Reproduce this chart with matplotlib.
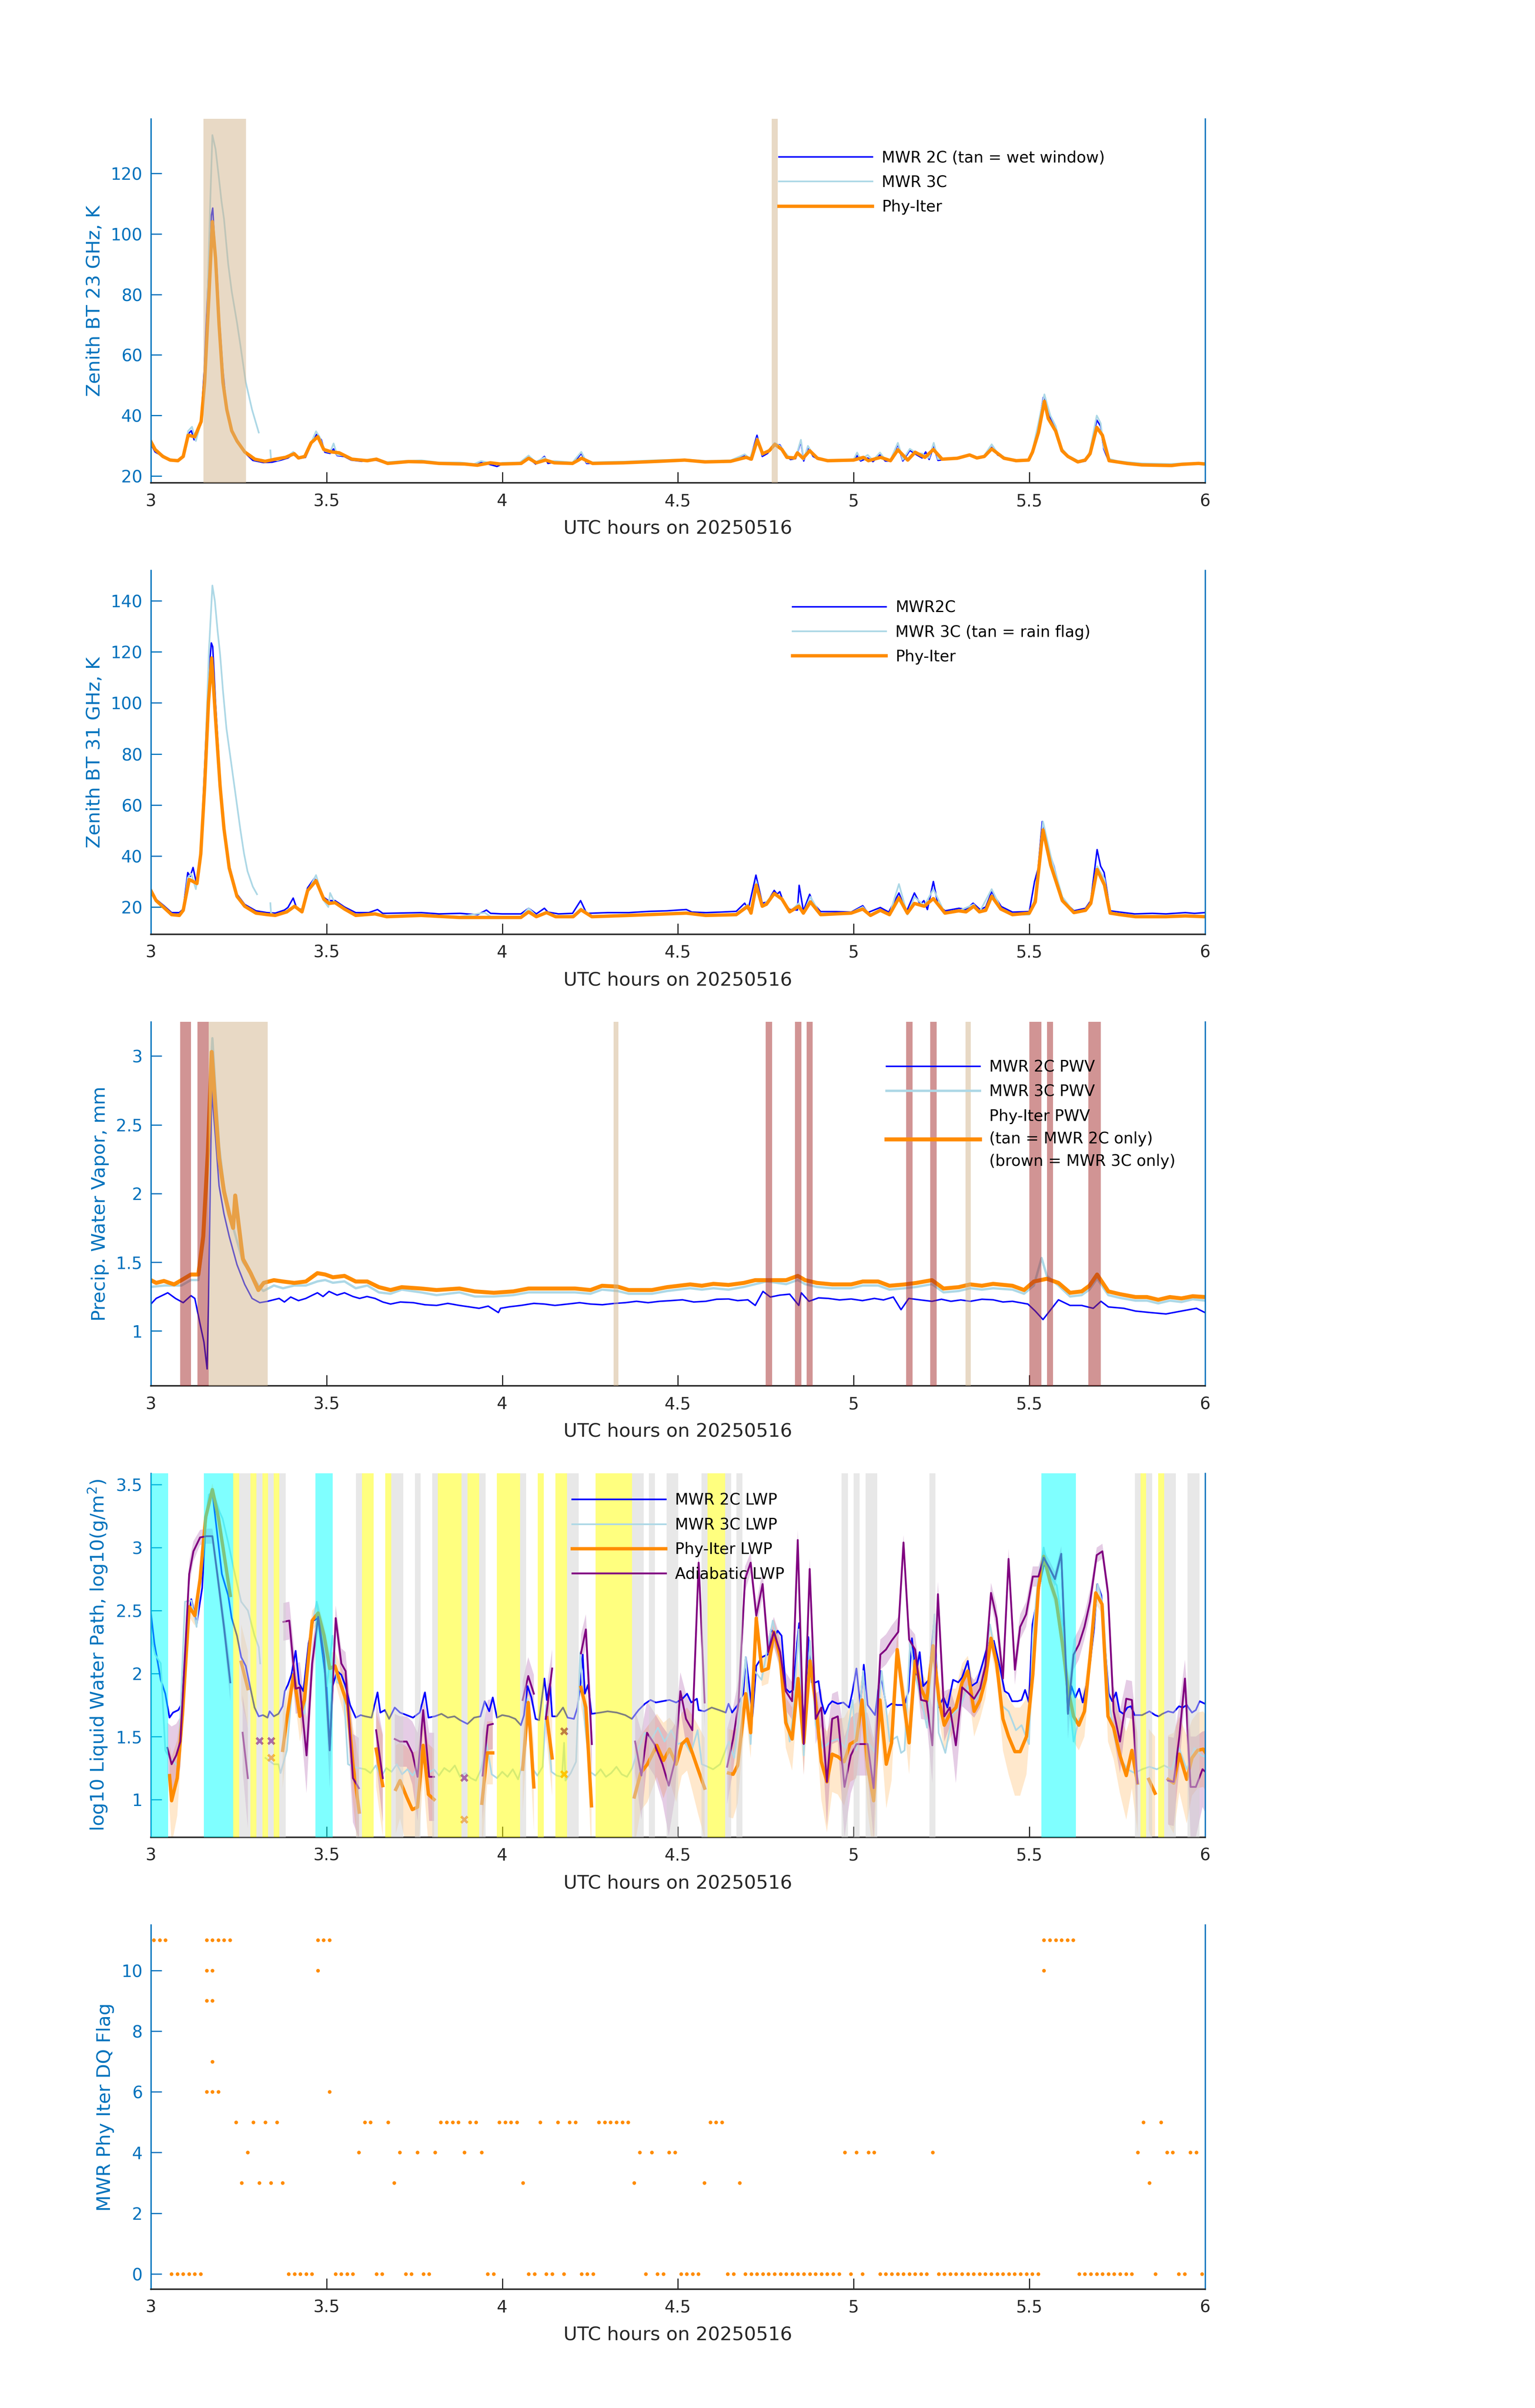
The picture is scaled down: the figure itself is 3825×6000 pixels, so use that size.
import numpy as np
import matplotlib.pyplot as plt

nan = np.nan

# ---------------- panel 1: zenith BT 23 GHz (time h, K) ----------------
bt23_2c = [(3.0, 30.5), (3.012, 28.0), (3.03, 26.8), (3.05, 25.3), (3.075, 24.9), (3.092, 26.2),
           (3.105, 33.8), (3.115, 35.0), (3.123, 32.0), (3.135, 35.5), (3.143, 39), (3.152, 55),
           (3.163, 85), (3.172, 106), (3.176, 108.5), (3.18, 100), (3.188, 88), (3.195, 72),
           (3.205, 55), (3.215, 43), (3.228, 36), (3.245, 31.5), (3.265, 28), (3.29, 25.2),
           (3.32, 24.5), (3.345, 24.6), (3.37, 25.3), (3.39, 26.0), (3.405, 27.2), (3.42, 25.8),
           (3.44, 26.2), (3.458, 31.0), (3.472, 33.8), (3.485, 32), (3.495, 27.9), (3.51, 27.5),
           (3.52, 29.0), (3.53, 26.8), (3.55, 26.5), (3.57, 25.3), (3.6, 24.9), (3.64, 25.3),
           (3.67, 24.2), (3.72, 24.7), (3.77, 24.5), (3.82, 24.1), (3.88, 24.0), (3.92, 23.6),
           (3.94, 24.5), (3.96, 24.0), (3.985, 23.2), (4.0, 24.0), (4.05, 24.1), (4.075, 26.0),
           (4.095, 24.0), (4.12, 26.5), (4.13, 24.2), (4.15, 24.6), (4.2, 24.0), (4.225, 27.5),
           (4.24, 24.2), (4.3, 24.4), (4.35, 24.4), (4.45, 24.9), (4.52, 25.2), (4.58, 24.6),
           (4.65, 24.8), (4.69, 26.8), (4.705, 25.4), (4.725, 33.5), (4.74, 26.5), (4.755, 27.5),
           (4.775, 30.5), (4.79, 30.3), (4.805, 27.5), (4.82, 25.5), (4.835, 25.8), (4.85, 31.5),
           (4.858, 25.0), (4.87, 29.5), (4.885, 26.5), (4.9, 25.5), (4.93, 25.0), (5.0, 25.2),
           (5.01, 26.8), (5.02, 25.0), (5.04, 26.0), (5.055, 24.8), (5.075, 27.0), (5.09, 25.0),
           (5.105, 25.0), (5.126, 30.5), (5.14, 25.0), (5.16, 28.5), (5.18, 27.0), (5.195, 26.0),
           (5.205, 28.0), (5.215, 25.5), (5.228, 30.0), (5.24, 25.2), (5.26, 25.5), (5.3, 25.8),
           (5.33, 26.8), (5.35, 25.8), (5.37, 26.2), (5.393, 29.5), (5.41, 27.0), (5.43, 25.8),
           (5.46, 24.9), (5.5, 25.2), (5.51, 28.5), (5.525, 36), (5.54, 46.0), (5.55, 43),
           (5.56, 39), (5.575, 36), (5.59, 29), (5.61, 26.3), (5.64, 24.5), (5.66, 25.0),
           (5.672, 27.5), (5.692, 38.5), (5.703, 36.5), (5.712, 29), (5.725, 25.2), (5.75, 24.6),
           (5.78, 24.1), (5.82, 23.7), (5.9, 23.5), (5.95, 23.9), (6.0, 24.0)]

bt23_3c = [(3.0, 30.7), (3.015, 28.5), (3.03, 27.2), (3.05, 25.7), (3.075, 25.2), (3.092, 26.5),
           (3.106, 34.9), (3.117, 36.3), (3.128, 31.6), (3.143, 38), (3.157, 60.5), (3.168, 107),
           (3.175, 132.6), (3.184, 128), (3.194, 118), (3.201, 110.7), (3.208, 105), (3.22, 90),
           (3.23, 81), (3.245, 70.7), (3.255, 63), (3.27, 51), (3.288, 41.9), (3.307, 34.4),
           (3.32, nan), (3.34, 28.5), (3.342, 25.5), (3.36, 25.2), (3.385, 26.2), (3.405, 28.0),
           (3.42, 26.2), (3.44, 26.8), (3.458, 31.5), (3.47, 34.8), (3.48, 33.0), (3.495, 28.3),
           (3.51, 27.8), (3.52, 30.8), (3.53, 27.0), (3.55, 26.8), (3.57, 25.6), (3.6, 25.2),
           (3.64, 25.8), (3.67, 24.6), (3.72, 25.0), (3.77, 25.2), (3.82, 24.5), (3.88, 24.5),
           (3.92, 24.0), (3.94, 25.0), (3.96, 24.4), (3.985, 24.0), (4.0, 24.4), (4.05, 24.5),
           (4.075, 26.8), (4.095, 24.6), (4.12, 26.2), (4.13, 24.8), (4.15, 25.0), (4.2, 24.5),
           (4.225, 28.0), (4.24, 24.5), (4.3, 24.7), (4.35, 24.8), (4.45, 25.3), (4.52, 25.5),
           (4.58, 25.0), (4.65, 25.2), (4.69, 27.2), (4.705, 25.8), (4.725, 32.5), (4.74, 27.0),
           (4.755, 28.0), (4.775, 31.0), (4.79, 30.0), (4.805, 27.8), (4.82, 25.8), (4.835, 26.0),
           (4.85, 32.0), (4.858, 25.5), (4.87, 30.0), (4.885, 27.0), (4.9, 25.8), (4.93, 25.3),
           (5.0, 25.5), (5.01, 27.8), (5.02, 25.4), (5.04, 27.0), (5.055, 25.2), (5.075, 27.8),
           (5.09, 25.4), (5.105, 25.4), (5.126, 31.0), (5.14, 25.4), (5.16, 29.0), (5.18, 27.5),
           (5.195, 27.5), (5.205, 26.5), (5.215, 26.0), (5.228, 31.0), (5.24, 25.6), (5.26, 25.8),
           (5.3, 26.2), (5.33, 27.2), (5.35, 26.2), (5.37, 26.5), (5.393, 30.5), (5.41, 27.5),
           (5.43, 26.2), (5.46, 25.3), (5.5, 25.5), (5.51, 29.0), (5.525, 37), (5.543, 47.0),
           (5.55, 44), (5.56, 40), (5.575, 36.5), (5.59, 29.5), (5.61, 26.8), (5.64, 25.0),
           (5.66, 25.4), (5.672, 28.0), (5.692, 40.0), (5.703, 37.5), (5.712, 29.5), (5.725, 25.8),
           (5.75, 25.0), (5.78, 24.6), (5.82, 24.2), (5.9, 24.0), (5.95, 24.3), (6.0, 24.4)]

bt23_phy = [(3.0, 31.4), (3.012, 28.8), (3.034, 26.5), (3.055, 25.3), (3.077, 25.1), (3.092, 26.5),
            (3.106, 33.5), (3.125, 33.0), (3.143, 38.0), (3.153, 51), (3.165, 79), (3.175, 104),
            (3.184, 92), (3.194, 70), (3.205, 51), (3.216, 42), (3.23, 35), (3.245, 31.6),
            (3.267, 28), (3.296, 25.6), (3.325, 24.9), (3.354, 25.6), (3.383, 26.2), (3.408, 27.4),
            (3.42, 26.0), (3.438, 26.5), (3.456, 31.0), (3.475, 33.0), (3.492, 28.8), (3.514, 28.0),
            (3.536, 27.7), (3.572, 25.6), (3.616, 25.1), (3.642, 25.6), (3.674, 24.2), (3.733, 24.8),
            (3.776, 24.7), (3.82, 24.2), (3.893, 24.0), (3.929, 23.6), (3.966, 24.4), (3.995, 24.0),
            (4.054, 24.2), (4.075, 25.9), (4.097, 24.4), (4.123, 25.3), (4.148, 24.4), (4.2, 24.2),
            (4.226, 25.9), (4.257, 24.2), (4.345, 24.4), (4.447, 24.9), (4.519, 25.3), (4.577, 24.7),
            (4.65, 24.9), (4.694, 26.2), (4.709, 25.6), (4.726, 32.0), (4.741, 27.4), (4.76, 28.4),
            (4.776, 30.5), (4.796, 28.8), (4.81, 26.2), (4.832, 26.0), (4.84, 27.7), (4.856, 25.9),
            (4.875, 28.4), (4.897, 25.9), (4.926, 25.1), (5.0, 25.3), (5.028, 26.2), (5.042, 25.1),
            (5.077, 26.2), (5.105, 25.1), (5.126, 28.7), (5.154, 25.3), (5.175, 27.9), (5.203, 26.2),
            (5.227, 28.8), (5.252, 25.6), (5.295, 25.9), (5.33, 27.0), (5.351, 26.0), (5.372, 26.5),
            (5.393, 29.0), (5.428, 25.9), (5.463, 25.1), (5.498, 25.3), (5.509, 27.9), (5.526, 34.4),
            (5.543, 44.7), (5.554, 39.0), (5.575, 34.9), (5.593, 28.4), (5.61, 26.5), (5.638, 24.7),
            (5.659, 25.3), (5.673, 27.4), (5.692, 36.1), (5.708, 33.5), (5.727, 25.1), (5.75, 24.7),
            (5.778, 24.2), (5.82, 23.7), (5.905, 23.5), (5.933, 23.9), (5.982, 24.2), (6.0, 24.0)]

wet_window = [(3.15, 3.271), (4.767, 4.784)]

# ---------------- panel 2: zenith BT 31 GHz ----------------
bt31_2c = [(3.0, 27.0), (3.015, 23.0), (3.037, 20.5), (3.059, 17.8), (3.081, 17.8), (3.092, 19.2),
           (3.105, 33.5), (3.112, 32), (3.12, 35.5), (3.13, 29), (3.142, 42), (3.153, 75),
           (3.164, 110), (3.172, 123.5), (3.176, 122), (3.184, 100), (3.197, 70), (3.208, 52),
           (3.223, 36.5), (3.245, 25.0), (3.267, 21.0), (3.299, 18.5), (3.33, 17.8), (3.354, 17.6),
           (3.38, 18.8), (3.39, 19.8), (3.405, 23.5), (3.415, 19.5), (3.43, 19.0), (3.446, 27.5),
           (3.465, 31.2), (3.475, 29.5), (3.49, 24.0), (3.505, 22.5), (3.524, 22.5), (3.535, 21.5),
           (3.551, 20.0), (3.583, 17.8), (3.62, 17.8), (3.645, 19.0), (3.66, 17.5), (3.7, 17.6),
           (3.77, 17.8), (3.82, 17.3), (3.88, 17.5), (3.93, 17.0), (3.955, 18.8), (3.967, 17.5),
           (4.0, 17.3), (4.053, 17.3), (4.075, 19.5), (4.097, 17.3), (4.12, 19.5), (4.13, 18.0),
           (4.16, 17.3), (4.2, 17.5), (4.223, 22.5), (4.24, 17.5), (4.3, 17.8), (4.36, 17.8),
           (4.42, 18.3), (4.469, 18.5), (4.5, 18.8), (4.524, 19.0), (4.54, 18.0), (4.58, 17.8),
           (4.62, 18.0), (4.666, 18.3), (4.69, 21.5), (4.70, 19.0), (4.722, 32.5), (4.74, 21.5),
           (4.755, 22), (4.774, 26.5), (4.782, 25), (4.79, 26.0), (4.8, 22), (4.818, 19.0),
           (4.84, 18.8), (4.845, 28.5), (4.857, 18.5), (4.875, 25.0), (4.885, 21.5), (4.906, 18.2),
           (4.95, 18.2), (4.993, 18.0), (5.026, 20.5), (5.04, 17.8), (5.076, 19.8), (5.1, 18.0),
           (5.129, 25.5), (5.15, 18.0), (5.173, 25.5), (5.19, 21), (5.2, 22.5), (5.21, 19.0),
           (5.227, 30.0), (5.24, 21), (5.26, 18.5), (5.3, 19.5), (5.32, 19.0), (5.34, 21.5),
           (5.36, 19.0), (5.376, 20.0), (5.393, 26.0), (5.42, 20.2), (5.452, 18.0), (5.5, 18.2),
           (5.515, 30), (5.525, 35), (5.537, 53.5), (5.55, 43), (5.56, 40), (5.57, 36),
           (5.594, 23), (5.627, 18.5), (5.66, 19.5), (5.675, 22.5), (5.693, 42.5), (5.703, 36),
           (5.713, 33.5), (5.73, 18.5), (5.758, 18.0), (5.8, 17.3), (5.85, 17.5), (5.889, 17.3),
           (5.944, 17.8), (5.97, 17.5), (6.0, 17.8)]

bt31_3c = [(3.0, 26.5), (3.015, 22.5), (3.037, 19.5), (3.059, 16.9), (3.081, 16.9), (3.092, 18.5),
           (3.105, 31.5), (3.115, 33.0), (3.128, 27.0), (3.142, 40), (3.155, 80), (3.165, 120),
           (3.175, 146), (3.182, 140), (3.19, 128), (3.197, 119), (3.205, 105), (3.215, 90),
           (3.225, 80), (3.235, 70), (3.245, 60), (3.255, 50), (3.265, 41), (3.275, 34),
           (3.29, 28), (3.302, 25), (3.32, nan), (3.34, 21.5), (3.342, 17.5), (3.354, 16.8),
           (3.387, 18.0), (3.409, 20.0), (3.43, 18.2), (3.446, 26.0), (3.47, 32.5), (3.492, 22.5),
           (3.505, 20), (3.51, 25.5), (3.524, 21.5), (3.551, 19.2), (3.583, 16.9), (3.638, 17.3),
           (3.671, 16.5), (3.769, 17.0), (3.878, 16.2), (3.95, 17.8), (3.967, 16.2), (4.053, 16.2),
           (4.075, 19.5), (4.097, 16.5), (4.126, 18.0), (4.152, 16.5), (4.202, 16.5), (4.224, 19.5),
           (4.255, 16.5), (4.36, 17.0), (4.469, 17.5), (4.524, 17.8), (4.579, 17.0), (4.666, 17.3),
           (4.699, 21.0), (4.708, 17.8), (4.723, 30.0), (4.74, 20.0), (4.774, 25.5), (4.796, 23.5),
           (4.818, 18.0), (4.844, 21.5), (4.857, 17.5), (4.877, 24.0), (4.906, 17.0), (4.993, 17.8),
           (5.026, 20.0), (5.048, 16.8), (5.076, 19.0), (5.102, 17.0), (5.129, 29.0), (5.153, 17.0),
           (5.173, 24.0), (5.201, 20.5), (5.227, 27.0), (5.26, 17.5), (5.299, 18.5), (5.342, 21.0),
           (5.358, 18.0), (5.393, 27.0), (5.419, 19.5), (5.452, 17.0), (5.5, 17.0), (5.517, 24.0),
           (5.539, 53.5), (5.561, 40.0), (5.594, 24.0), (5.627, 18.0), (5.66, 19.0), (5.675, 22.0),
           (5.693, 36.0), (5.714, 31.0), (5.73, 18.0), (5.758, 17.3), (5.8, 16.5), (5.889, 16.5),
           (5.944, 16.8), (6.0, 16.5)]

bt31_phy = [(3.0, 26.4), (3.015, 22.5), (3.037, 19.8), (3.059, 17.0), (3.081, 16.7), (3.092, 18.7),
            (3.109, 30.8), (3.131, 29.2), (3.142, 40.8), (3.153, 67.3), (3.164, 100.4), (3.173, 117.6),
            (3.184, 93.8), (3.197, 67.3), (3.208, 50.7), (3.223, 35.2), (3.245, 24.2), (3.267, 20.3),
            (3.299, 17.6), (3.332, 17.0), (3.354, 16.7), (3.387, 18.1), (3.409, 20.3), (3.43, 18.1),
            (3.446, 26.4), (3.47, 30.3), (3.492, 23.1), (3.507, 21.4), (3.524, 21.7), (3.551, 19.2),
            (3.583, 16.7), (3.638, 17.3), (3.671, 16.2), (3.769, 16.7), (3.878, 15.9), (3.967, 15.9),
            (4.053, 15.9), (4.075, 18.1), (4.097, 16.2), (4.126, 17.8), (4.152, 16.2), (4.202, 16.2),
            (4.224, 18.9), (4.255, 16.2), (4.36, 16.7), (4.469, 17.3), (4.524, 17.6), (4.579, 16.7),
            (4.666, 17.0), (4.699, 20.3), (4.708, 17.6), (4.723, 28.6), (4.74, 20.3), (4.752, 21.1),
            (4.774, 25.3), (4.796, 23.1), (4.818, 18.1), (4.844, 20.3), (4.857, 17.6), (4.877, 22.0),
            (4.906, 17.0), (4.993, 17.6), (5.026, 19.2), (5.048, 16.7), (5.076, 18.7), (5.102, 17.0),
            (5.129, 23.6), (5.153, 17.6), (5.173, 21.4), (5.201, 20.3), (5.227, 23.3), (5.26, 17.6),
            (5.299, 18.5), (5.32, 18.1), (5.342, 20.3), (5.358, 18.1), (5.376, 18.7), (5.393, 24.2),
            (5.419, 19.2), (5.452, 17.0), (5.5, 17.6), (5.517, 22.0), (5.539, 50.2), (5.561, 36.4),
            (5.594, 22.5), (5.627, 17.8), (5.66, 18.7), (5.675, 21.4), (5.693, 34.7), (5.714, 28.6),
            (5.73, 17.6), (5.758, 17.0), (5.802, 16.2), (5.889, 16.2), (5.944, 16.5), (6.0, 16.2)]

# ---------------- panel 3: PWV (mm) ----------------
pwv_2c = [(3.0, 1.195), (3.015, 1.236), (3.048, 1.277), (3.07, 1.236), (3.092, 1.205), (3.114, 1.256),
          (3.125, 1.236), (3.14, 1.05), (3.151, 0.918), (3.16, 0.723), (3.164, 1.195), (3.173, 2.75),
          (3.184, 2.405), (3.194, 2.056), (3.208, 1.851), (3.223, 1.687), (3.245, 1.482), (3.267, 1.338),
          (3.288, 1.236), (3.31, 1.205), (3.332, 1.215), (3.365, 1.236), (3.38, 1.21), (3.398, 1.246),
          (3.42, 1.22), (3.441, 1.236), (3.46, 1.26), (3.474, 1.277), (3.49, 1.25), (3.507, 1.287),
          (3.53, 1.26), (3.551, 1.277), (3.575, 1.25), (3.594, 1.236), (3.615, 1.25), (3.638, 1.236),
          (3.66, 1.21), (3.682, 1.195), (3.71, 1.21), (3.747, 1.205), (3.78, 1.19), (3.813, 1.185),
          (3.845, 1.2), (3.878, 1.185), (3.905, 1.175), (3.934, 1.164), (3.96, 1.18), (3.989, 1.133),
          (3.995, 1.164), (4.02, 1.175), (4.053, 1.185), (4.09, 1.2), (4.12, 1.195), (4.15, 1.185),
          (4.186, 1.195), (4.22, 1.205), (4.251, 1.195), (4.285, 1.19), (4.317, 1.199), (4.35, 1.205),
          (4.382, 1.215), (4.415, 1.205), (4.448, 1.215), (4.48, 1.22), (4.513, 1.226), (4.545, 1.21),
          (4.579, 1.215), (4.61, 1.23), (4.644, 1.232), (4.67, 1.22), (4.699, 1.226), (4.72, 1.185),
          (4.742, 1.287), (4.763, 1.246), (4.79, 1.26), (4.818, 1.267), (4.844, 1.185), (4.851, 1.277),
          (4.873, 1.215), (4.9, 1.24), (4.928, 1.236), (4.96, 1.225), (4.993, 1.232), (5.025, 1.22),
          (5.059, 1.236), (5.085, 1.225), (5.113, 1.246), (5.135, 1.154), (5.157, 1.236), (5.19, 1.225),
          (5.223, 1.215), (5.25, 1.23), (5.277, 1.215), (5.305, 1.225), (5.332, 1.215), (5.365, 1.23),
          (5.397, 1.226), (5.425, 1.21), (5.452, 1.215), (5.496, 1.195), (5.517, 1.144), (5.539, 1.082),
          (5.561, 1.154), (5.583, 1.226), (5.616, 1.185), (5.649, 1.185), (5.682, 1.164), (5.704, 1.215),
          (5.725, 1.174), (5.769, 1.164), (5.802, 1.144), (5.845, 1.133), (5.889, 1.123), (5.933, 1.144),
          (5.976, 1.164), (6.0, 1.133)]

pwv_3c = [(3.0, 1.32), (3.04, 1.33), (3.087, 1.33), (3.114, 1.37), (3.135, 1.37), (3.15, 1.65),
          (3.162, 2.4), (3.175, 3.13), (3.184, 2.75), (3.194, 2.35), (3.208, 2.05), (3.223, 1.85),
          (3.24, 1.70), (3.262, 1.50), (3.284, 1.42), (3.306, 1.33), (3.32, 1.29), (3.35, 1.33),
          (3.376, 1.31), (3.408, 1.33), (3.441, 1.33), (3.474, 1.36), (3.496, 1.37), (3.518, 1.35),
          (3.551, 1.36), (3.583, 1.31), (3.616, 1.33), (3.649, 1.28), (3.682, 1.27), (3.714, 1.30),
          (3.769, 1.28), (3.813, 1.26), (3.878, 1.28), (3.922, 1.25), (3.976, 1.25), (4.031, 1.26),
          (4.075, 1.28), (4.142, 1.28), (4.207, 1.28), (4.251, 1.27), (4.284, 1.30), (4.328, 1.29),
          (4.36, 1.27), (4.426, 1.27), (4.469, 1.29), (4.502, 1.30), (4.535, 1.31), (4.568, 1.30),
          (4.601, 1.31), (4.644, 1.30), (4.688, 1.32), (4.72, 1.34), (4.753, 1.36), (4.808, 1.34),
          (4.841, 1.37), (4.862, 1.34), (4.895, 1.32), (4.939, 1.31), (4.993, 1.31), (5.026, 1.33),
          (5.07, 1.33), (5.102, 1.30), (5.146, 1.31), (5.179, 1.32), (5.223, 1.34), (5.256, 1.28),
          (5.299, 1.29), (5.332, 1.31), (5.365, 1.30), (5.397, 1.31), (5.452, 1.30), (5.485, 1.27),
          (5.513, 1.33), (5.535, 1.53), (5.55, 1.40), (5.583, 1.33), (5.616, 1.25), (5.649, 1.26),
          (5.671, 1.30), (5.693, 1.38), (5.725, 1.26), (5.758, 1.24), (5.802, 1.22), (5.835, 1.22),
          (5.867, 1.20), (5.9, 1.22), (5.933, 1.21), (5.965, 1.23), (6.0, 1.22)]

pwv_phy = [(3.0, 1.369), (3.015, 1.349), (3.037, 1.363), (3.066, 1.338), (3.087, 1.369), (3.114, 1.41),
           (3.135, 1.41), (3.149, 1.687), (3.162, 2.30), (3.173, 3.03), (3.184, 2.61), (3.194, 2.26),
           (3.208, 2.015), (3.223, 1.85), (3.234, 1.749), (3.24, 1.985), (3.25, 1.77), (3.262, 1.523),
           (3.284, 1.42), (3.306, 1.297), (3.321, 1.349), (3.35, 1.369), (3.376, 1.359), (3.408, 1.349),
           (3.441, 1.359), (3.474, 1.42), (3.496, 1.41), (3.518, 1.39), (3.551, 1.40), (3.583, 1.359),
           (3.616, 1.359), (3.649, 1.318), (3.682, 1.297), (3.714, 1.318), (3.769, 1.308), (3.813, 1.297),
           (3.878, 1.308), (3.922, 1.287), (3.976, 1.277), (4.031, 1.287), (4.075, 1.308), (4.142, 1.308),
           (4.207, 1.308), (4.251, 1.297), (4.284, 1.328), (4.328, 1.322), (4.36, 1.297), (4.426, 1.297),
           (4.469, 1.318), (4.502, 1.328), (4.535, 1.338), (4.568, 1.328), (4.601, 1.342), (4.644, 1.334),
           (4.688, 1.349), (4.72, 1.369), (4.753, 1.369), (4.808, 1.369), (4.841, 1.40), (4.862, 1.369),
           (4.895, 1.349), (4.939, 1.338), (4.993, 1.338), (5.026, 1.359), (5.07, 1.359), (5.102, 1.328),
           (5.146, 1.338), (5.179, 1.349), (5.223, 1.369), (5.256, 1.308), (5.299, 1.318), (5.332, 1.338),
           (5.365, 1.328), (5.397, 1.342), (5.452, 1.328), (5.485, 1.297), (5.513, 1.359), (5.55, 1.379),
           (5.583, 1.349), (5.616, 1.277), (5.649, 1.287), (5.671, 1.328), (5.693, 1.41), (5.725, 1.287),
           (5.758, 1.267), (5.802, 1.246), (5.835, 1.246), (5.867, 1.226), (5.9, 1.246), (5.933, 1.236),
           (5.965, 1.252), (6.0, 1.246)]

only_2c = [(3.164, 3.332), (4.317, 4.331), (5.318, 5.333)]
only_3c = [(3.083, 3.114), (3.133, 3.164), (4.75, 4.768), (4.833, 4.851), (4.866, 4.883),
           (5.15, 5.168), (5.218, 5.236), (5.5, 5.535), (5.55, 5.568), (5.668, 5.703)]

# ---------------- panel 4: log10 LWP ----------------
lwp_2c = [(3.0, 2.48), (3.01, 2.24), (3.028, 1.95), (3.041, 1.84), (3.053, 1.65), (3.063, 1.69),
          (3.078, 1.71), (3.088, 1.76), (3.103, 2.35), (3.115, 2.59), (3.13, 2.39), (3.146, 2.68),
          (3.156, 3.19), (3.165, 3.40), (3.175, 3.44), (3.187, 3.15), (3.202, 2.79), (3.22, 2.62),
          (3.23, 2.44), (3.245, 2.30), (3.257, 2.13), (3.27, 2.06), (3.282, 1.90), (3.295, 1.73),
          (3.307, 1.66), (3.319, 1.67), (3.332, 1.65), (3.338, 1.70), (3.35, 1.66), (3.363, 1.68),
          (3.375, 1.74), (3.381, 1.86), (3.39, 1.91), (3.40, 1.99), (3.412, 2.18), (3.422, 1.92),
          (3.434, 1.86), (3.449, 2.24), (3.462, 2.42), (3.476, 2.44), (3.486, 2.22), (3.499, 1.93),
          (3.509, 1.40), (3.517, 1.90), (3.53, 2.02), (3.542, 1.99), (3.554, 1.90), (3.567, 1.75),
          (3.583, 1.65), (3.597, 1.67), (3.61, 1.66), (3.628, 1.65), (3.645, 1.85), (3.653, 1.69),
          (3.666, 1.71), (3.678, 1.64), (3.694, 1.73), (3.709, 1.69), (3.728, 1.67), (3.746, 1.65),
          (3.765, 1.69), (3.78, 1.85), (3.79, 1.65), (3.808, 1.66), (3.827, 1.68), (3.845, 1.65),
          (3.864, 1.66), (3.88, 1.63), (3.901, 1.60), (3.92, 1.65), (3.938, 1.66), (3.95, 1.78),
          (3.963, 1.70), (3.973, 1.81), (3.985, 1.65), (4.0, 1.67), (4.019, 1.66), (4.037, 1.64),
          (4.053, 1.59), (4.062, 1.67), (4.072, 1.90), (4.083, 1.81), (4.095, 1.64), (4.105, 1.63),
          (4.12, 1.96), (4.127, 1.79), (4.136, 1.92), (4.142, 1.66), (4.155, 1.66), (4.173, 1.73),
          (4.186, 1.65), (4.204, 1.64), (4.214, 1.73), (4.223, 1.93), (4.229, 2.15), (4.235, 1.84),
          (4.244, 1.91), (4.254, 1.68), (4.279, 1.69), (4.30, 1.70), (4.326, 1.69), (4.35, 1.67),
          (4.369, 1.64), (4.388, 1.71), (4.406, 1.76), (4.422, 1.79), (4.437, 1.77), (4.456, 1.78),
          (4.476, 1.79), (4.495, 1.77), (4.513, 1.80), (4.526, 1.84), (4.538, 1.77), (4.554, 1.80),
          (4.559, 1.71), (4.575, 1.70), (4.596, 1.73), (4.617, 1.71), (4.636, 1.69), (4.644, 1.76),
          (4.654, 1.69), (4.67, 1.75), (4.686, 1.84), (4.693, 2.13), (4.702, 1.93), (4.712, 1.66),
          (4.723, 2.06), (4.739, 2.13), (4.755, 2.15), (4.765, 2.35), (4.776, 2.30), (4.784, 2.34),
          (4.795, 2.30), (4.807, 1.88), (4.818, 1.85), (4.828, 1.87), (4.839, 2.24), (4.845, 2.40),
          (4.851, 1.90), (4.86, 1.55), (4.871, 2.29), (4.881, 1.93), (4.892, 1.93), (4.90, 1.94),
          (4.908, 1.78), (4.918, 1.68), (4.929, 1.75), (4.939, 1.78), (4.955, 1.76), (4.971, 1.77),
          (4.987, 1.73), (4.997, 1.86), (5.008, 2.04), (5.019, 1.75), (5.029, 2.07), (5.04, 1.75),
          (5.061, 1.67), (5.077, 2.02), (5.093, 1.73), (5.108, 1.76), (5.124, 1.75), (5.145, 1.75),
          (5.156, 1.86), (5.166, 2.28), (5.177, 1.99), (5.188, 2.17), (5.198, 1.90), (5.214, 1.95),
          (5.23, 2.44), (5.241, 1.73), (5.256, 1.81), (5.267, 1.73), (5.283, 1.95), (5.298, 1.93),
          (5.309, 1.97), (5.325, 2.10), (5.335, 1.90), (5.351, 1.93), (5.367, 2.08), (5.383, 2.24),
          (5.399, 2.26), (5.414, 2.08), (5.43, 1.86), (5.441, 1.84), (5.451, 1.78), (5.467, 1.78),
          (5.478, 1.79), (5.488, 1.87), (5.499, 1.77), (5.509, 2.39), (5.52, 2.55), (5.53, 2.71),
          (5.541, 2.86), (5.557, 2.84), (5.573, 2.75), (5.591, 2.95), (5.599, 2.35), (5.61, 1.68),
          (5.62, 1.90), (5.631, 1.81), (5.642, 1.88), (5.652, 1.77), (5.662, 1.90), (5.673, 2.08),
          (5.684, 2.35), (5.694, 2.71), (5.705, 2.62), (5.715, 2.24), (5.726, 1.84), (5.736, 1.78),
          (5.747, 1.85), (5.757, 1.70), (5.768, 1.68), (5.779, 1.73), (5.789, 1.74), (5.80, 1.67),
          (5.821, 1.67), (5.842, 1.70), (5.858, 1.67), (5.868, 1.66), (5.879, 1.68), (5.895, 1.70),
          (5.91, 1.69), (5.926, 1.74), (5.937, 1.73), (5.948, 1.75), (5.963, 1.69), (5.974, 1.71),
          (5.985, 1.78), (6.0, 1.76), (6.009, 1.75)]

lwp_3c = [(3.0, 2.30), (3.012, 2.15), (3.028, 2.08), (3.041, 1.39), (3.053, 1.33), (3.068, 1.29),
          (3.078, 1.26), (3.097, 2.57), (3.115, 2.58), (3.13, 2.37), (3.146, 3.02), (3.165, 3.42),
          (3.177, 3.44), (3.196, 3.28), (3.204, 3.23), (3.22, 3.04), (3.239, 2.79), (3.257, 2.57),
          (3.276, 2.50), (3.295, 2.30), (3.307, 2.21), (3.311, 2.08), (3.318, nan),
          (3.326, 1.33), (3.35, 1.28), (3.363, 1.28), (3.369, 1.21), (3.387, 1.39), (3.406, 2.02),
          (3.422, 1.73), (3.437, 1.68), (3.456, 2.35), (3.472, 2.57), (3.486, 2.30), (3.501, 1.90),
          (3.517, 2.30), (3.53, 1.93), (3.548, 1.90), (3.561, 1.28), (3.576, 1.26), (3.592, 1.25),
          (3.61, 1.24), (3.625, 1.21), (3.64, 1.27), (3.655, 1.18), (3.67, 1.25), (3.685, 1.22),
          (3.70, 1.28), (3.715, 1.20), (3.73, 1.24), (3.745, 1.19), (3.76, 1.26), (3.775, 1.30),
          (3.79, 1.21), (3.805, 1.24), (3.82, 1.19), (3.835, 1.25), (3.85, 1.22), (3.865, 1.27),
          (3.88, 1.18), (3.895, 1.21), (3.91, 1.17), (3.925, 1.15), (3.94, 1.24), (3.955, 1.45),
          (3.97, 1.20), (3.985, 1.17), (4.0, 1.22), (4.015, 1.18), (4.03, 1.24), (4.045, 1.16),
          (4.06, 1.30), (4.072, 1.80), (4.085, 1.25), (4.10, 1.19), (4.115, 1.26), (4.125, 1.75),
          (4.14, 1.22), (4.155, 1.19), (4.17, 1.18), (4.176, 1.45), (4.18, 1.15), (4.195, 1.21),
          (4.21, 1.30), (4.222, 2.17), (4.235, 1.60), (4.25, 1.22), (4.265, 1.19), (4.28, 1.24),
          (4.295, 1.18), (4.31, 1.21), (4.325, 1.26), (4.34, 1.20), (4.355, 1.18), (4.37, 1.25),
          (4.388, 1.41), (4.406, 1.53), (4.425, 1.48), (4.443, 1.57), (4.462, 1.46), (4.481, 1.55),
          (4.50, 1.44), (4.518, 1.46), (4.537, 1.37), (4.556, 1.55), (4.568, 1.28), (4.585, 1.26),
          (4.60, 1.24), (4.62, 1.28), (4.645, 1.46), (4.66, 1.33), (4.681, 1.81), (4.693, 2.13),
          (4.707, 1.44), (4.718, 2.02), (4.738, 1.95), (4.77, 2.42), (4.78, 2.30), (4.795, 2.00),
          (4.818, 1.46), (4.828, 1.68), (4.844, 2.35), (4.858, 1.35), (4.876, 2.26), (4.892, 1.59),
          (4.913, 1.41), (4.934, 1.46), (4.955, 1.48), (4.976, 1.41), (4.997, 1.79), (5.008, 1.39),
          (5.027, 2.02), (5.04, 1.46), (5.061, 1.37), (5.08, 2.02), (5.103, 1.46), (5.124, 1.50),
          (5.135, 1.37), (5.145, 1.39), (5.161, 2.26), (5.172, 2.02), (5.193, 1.79), (5.209, 1.57),
          (5.23, 2.47), (5.242, 1.53), (5.261, 1.37), (5.282, 1.68), (5.303, 1.73), (5.325, 1.90),
          (5.346, 1.79), (5.367, 1.90), (5.388, 2.39), (5.404, 2.13), (5.42, 1.75), (5.441, 1.70),
          (5.462, 1.55), (5.478, 1.59), (5.499, 1.44), (5.51, 2.30), (5.525, 2.75), (5.541, 3.00),
          (5.557, 2.79), (5.578, 2.70), (5.594, 2.39), (5.61, 1.90), (5.626, 1.46), (5.642, 1.64),
          (5.657, 1.68), (5.673, 2.08), (5.695, 2.71), (5.71, 2.53), (5.724, 1.84), (5.742, 1.50),
          (5.758, 1.33), (5.779, 1.24), (5.80, 1.21), (5.821, 1.24), (5.842, 1.26), (5.863, 1.24),
          (5.884, 1.27), (5.905, 1.24), (5.926, 1.41), (5.948, 1.24), (5.97, 1.41), (5.99, 1.35),
          (6.009, 1.33)]

# (time, log10 LWP, half-width of uncertainty band)
lwp_phy = [(3.053, 1.19, 0.25), (3.059, 0.99, 0.35), (3.075, 1.17, 0.30), (3.090, 1.68, 0.15),
           (3.109, 2.53, 0.08), (3.125, 2.46, 0.08), (3.140, 2.75, 0.07), (3.156, 3.24, 0.05),
           (3.175, 3.46, 0.05), (3.192, 3.24, 0.05), (3.208, 2.95, 0.06), (3.226, 2.62, 0.08),
           (3.24, nan, nan),
           (3.257, 2.09, 0.30), (3.276, 1.88, 0.30), (3.30, nan, nan),
           (3.375, 1.39, 0.30), (3.387, 1.64, 0.20), (3.406, 1.99, 0.10), (3.424, 1.66, 0.20),
           (3.437, 1.79, 0.15), (3.459, 2.42, 0.08), (3.476, 2.48, 0.08), (3.493, 2.30, 0.08),
           (3.509, 2.04, 0.12), (3.524, 2.06, 0.12), (3.542, 1.90, 0.15), (3.560, 1.75, 0.20),
           (3.575, 1.28, 0.30), (3.593, 0.90, 0.40), (3.62, nan, nan),
           (3.641, 1.40, 0.30), (3.660, 1.11, 0.40), (3.68, nan, nan),
           (3.697, 1.08, 0.35), (3.709, 1.15, 0.30), (3.728, 1.02, 0.40), (3.744, 0.92, 0.45),
           (3.759, 0.94, 0.45), (3.775, 1.43, 0.25), (3.790, 1.04, 0.40), (3.806, 1.00, 0.40),
           (3.85, nan, nan),
           (3.942, 0.97, 0.40), (3.957, 1.37, 0.25), (3.973, 1.37, 0.25), (4.01, nan, nan),
           (4.058, 1.24, 0.35), (4.074, 1.77, 0.15), (4.090, 1.10, 0.35), (4.11, nan, nan),
           (4.127, 1.65, 0.20), (4.142, 1.33, 0.30), (4.18, nan, nan),
           (4.224, 1.89, 0.15), (4.238, 1.73, 0.20), (4.254, 0.95, 0.40), (4.30, nan, nan),
           (4.376, 1.02, 0.40), (4.394, 1.21, 0.30), (4.413, 1.28, 0.30), (4.440, 1.43, 0.25),
           (4.459, 1.31, 0.30), (4.476, 1.40, 0.25), (4.495, 1.28, 0.30), (4.511, 1.44, 0.25),
           (4.526, 1.48, 0.25), (4.541, 1.37, 0.30), (4.557, 1.24, 0.35), (4.576, 1.09, 0.40),
           (4.61, nan, nan),
           (4.644, 1.21, 0.35), (4.657, 1.20, 0.35), (4.670, 1.27, 0.30), (4.684, 1.61, 0.20),
           (4.693, 1.84, 0.15), (4.707, 1.53, 0.20), (4.723, 2.44, 0.10), (4.739, 2.02, 0.12),
           (4.757, 2.04, 0.12), (4.773, 2.33, 0.10), (4.791, 2.13, 0.12), (4.807, 1.61, 0.20),
           (4.825, 1.48, 0.25), (4.842, 1.96, 0.15), (4.858, 1.45, 0.25), (4.876, 2.10, 0.12),
           (4.892, 1.77, 0.15), (4.908, 1.30, 0.30), (4.924, 1.14, 0.40), (4.939, 1.36, 0.30),
           (4.955, 1.34, 0.30), (4.973, 1.30, 0.35), (4.990, 1.44, 0.30), (5.008, 1.47, 0.30),
           (5.024, 1.79, 0.20), (5.040, 1.26, 0.35), (5.057, 0.99, 0.45), (5.075, 1.79, 0.20),
           (5.093, 1.28, 0.35), (5.108, 1.45, 0.30), (5.124, 2.19, 0.12), (5.142, 1.79, 0.15),
           (5.158, 1.45, 0.25), (5.175, 2.10, 0.12), (5.192, 1.88, 0.15), (5.208, 1.78, 0.15),
           (5.226, 2.22, 0.12), (5.243, 1.79, 0.15), (5.258, 1.59, 0.20), (5.274, 1.68, 0.20),
           (5.291, 1.73, 0.15), (5.309, 1.93, 0.15), (5.325, 2.02, 0.12), (5.343, 1.70, 0.20),
           (5.360, 1.79, 0.15), (5.375, 1.95, 0.15), (5.391, 2.28, 0.10), (5.407, 2.08, 0.12),
           (5.425, 1.64, 0.25), (5.441, 1.50, 0.30), (5.459, 1.38, 0.35), (5.474, 1.38, 0.35),
           (5.492, 1.50, 0.30), (5.510, 1.99, 0.15), (5.526, 2.68, 0.08), (5.541, 2.93, 0.06),
           (5.559, 2.73, 0.06), (5.576, 2.59, 0.08), (5.594, 2.24, 0.10), (5.610, 1.88, 0.15),
           (5.626, 1.66, 0.20), (5.641, 1.59, 0.20), (5.657, 1.70, 0.20), (5.673, 2.13, 0.12),
           (5.689, 2.64, 0.08), (5.707, 2.55, 0.08), (5.724, 1.66, 0.20), (5.740, 1.57, 0.25),
           (5.758, 1.35, 0.30), (5.776, 1.19, 0.35), (5.792, 1.39, 0.30), (5.808, 1.13, 0.40),
           (5.825, nan, nan),
           (5.840, 1.16, 0.40), (5.858, 1.05, 0.45), (5.875, nan, nan),
           (5.895, 1.16, 0.35), (5.911, 1.13, 0.40), (5.927, 1.36, 0.30), (5.948, 1.16, 0.35),
           (5.963, 1.33, 0.30), (5.979, 1.39, 0.30), (5.995, 1.40, 0.30), (6.009, 1.34, 0.30)]

lwp_adi = [(3.047, 1.41, 0.20), (3.059, 1.28, 0.30), (3.072, 1.35, 0.25), (3.084, 1.46, 0.20),
           (3.109, 2.79, 0.10), (3.121, 2.97, 0.08), (3.140, 3.08, 0.06), (3.158, 3.09, 0.06),
           (3.175, 3.09, 0.06), (3.189, 2.79, 0.08), (3.208, 2.37, 0.10), (3.226, 1.93, 0.15),
           (3.24, nan, nan),
           (3.261, 1.53, 0.30), (3.276, 1.17, 0.40), (3.30, nan, nan),
           (3.377, 2.41, 0.15), (3.394, 2.42, 0.15), (3.412, 1.88, 0.20), (3.424, 1.89, 0.20),
           (3.443, 1.35, 0.30), (3.459, 2.08, 0.15), (3.476, 2.45, 0.10), (3.493, 2.13, 0.15),
           (3.509, 1.39, 0.30), (3.526, 2.44, 0.10), (3.542, 2.08, 0.12), (3.554, 2.02, 0.15),
           (3.575, 1.17, 0.35), (3.592, 1.09, 0.40), (3.62, nan, nan),
           (3.641, 1.55, 0.25), (3.660, 1.17, 0.35), (3.68, nan, nan),
           (3.694, 1.48, 0.20), (3.709, 1.46, 0.20), (3.728, 1.46, 0.20), (3.744, 1.37, 0.25),
           (3.759, 1.18, 0.35), (3.775, 1.71, 0.15), (3.792, 1.18, 0.35), (3.806, 1.18, 0.35),
           (3.85, nan, nan),
           (3.944, 1.19, 0.35), (3.959, 1.59, 0.20), (3.973, 1.60, 0.20), (4.01, nan, nan),
           (4.058, 1.79, 0.15), (4.074, 1.98, 0.15), (4.090, 1.84, 0.15), (4.11, nan, nan),
           (4.124, 1.64, 0.20), (4.142, 2.04, 0.15), (4.18, nan, nan),
           (4.224, 2.16, 0.15), (4.238, 2.35, 0.12), (4.255, 1.44, 0.25), (4.30, nan, nan),
           (4.378, 1.46, 0.25), (4.396, 1.19, 0.35), (4.412, 1.53, 0.25), (4.433, 1.44, 0.25),
           (4.456, 1.28, 0.30), (4.474, 1.11, 0.40), (4.491, 1.30, 0.30), (4.507, 1.86, 0.15),
           (4.523, 1.64, 0.20), (4.541, 1.55, 0.20), (4.559, 2.88, 0.08), (4.576, 1.77, 0.20),
           (4.61, nan, nan),
           (4.640, 1.26, 0.30), (4.657, 1.48, 0.25), (4.672, 1.75, 0.20), (4.691, 2.75, 0.10),
           (4.707, 2.88, 0.08), (4.723, 2.46, 0.10), (4.741, 2.71, 0.10), (4.757, 2.17, 0.12),
           (4.773, 2.33, 0.12), (4.791, 2.17, 0.12), (4.807, 1.86, 0.15), (4.825, 1.78, 0.15),
           (4.841, 3.06, 0.08), (4.858, 1.44, 0.25), (4.875, 2.83, 0.08), (4.892, 1.64, 0.20),
           (4.908, 1.73, 0.15), (4.924, 1.14, 0.35), (4.939, 1.64, 0.20), (4.955, 1.66, 0.20),
           (4.974, 1.10, 0.40), (4.992, 1.35, 0.30), (5.008, 1.44, 0.25), (5.040, 1.44, 0.25),
           (5.057, 1.09, 0.40), (5.076, 2.15, 0.12), (5.092, 2.19, 0.12), (5.108, 2.26, 0.12),
           (5.127, 2.33, 0.12), (5.142, 3.04, 0.06), (5.158, 2.27, 0.10), (5.175, 2.19, 0.12),
           (5.192, 1.79, 0.15), (5.208, 1.78, 0.15), (5.224, 1.43, 0.30), (5.240, 2.63, 0.10),
           (5.258, 1.66, 0.20), (5.274, 1.73, 0.15), (5.291, 1.43, 0.30), (5.309, 1.89, 0.15),
           (5.325, 1.85, 0.15), (5.343, 1.80, 0.15), (5.360, 1.88, 0.15), (5.375, 2.06, 0.12),
           (5.391, 2.64, 0.08), (5.407, 2.44, 0.10), (5.425, 1.96, 0.12), (5.441, 2.91, 0.08),
           (5.459, 2.03, 0.12), (5.474, 2.37, 0.10), (5.491, 2.47, 0.10), (5.510, 2.77, 0.08),
           (5.526, 2.77, 0.08), (5.541, 2.92, 0.06), (5.557, 2.84, 0.06), (5.573, 2.75, 0.06),
           (5.591, 2.95, 0.06), (5.610, 1.68, 0.20), (5.626, 2.15, 0.12), (5.641, 2.23, 0.12),
           (5.657, 2.37, 0.10), (5.673, 2.57, 0.10), (5.692, 2.94, 0.06), (5.708, 2.97, 0.06),
           (5.724, 2.64, 0.08), (5.740, 1.70, 0.20), (5.758, 1.46, 0.25), (5.776, 1.80, 0.15),
           (5.792, 1.79, 0.15), (5.808, 1.13, 0.35), (5.85, nan, nan),
           (5.895, 1.15, 0.35), (5.911, 1.14, 0.35), (5.927, 1.50, 0.25), (5.943, 1.96, 0.15),
           (5.959, 1.10, 0.40), (5.974, 1.10, 0.40), (5.993, 1.24, 0.30), (6.009, 1.20, 0.35)]

lwp_adi_single = [(3.309, 1.465), (3.343, 1.465), (3.892, 1.17), (4.176, 1.54)]
lwp_phy_single = [(3.343, 1.33), (3.892, 0.84), (4.176, 1.20)]

cyan_spans = [(3.0, 3.0495), (3.151, 3.234), (3.468, 3.517), (5.534, 5.633)]
yellow_spans = [(3.234, 3.251), (3.283, 3.30), (3.317, 3.334), (3.35, 3.366), (3.601, 3.634),
                (3.667, 3.684), (3.817, 3.884), (3.901, 3.934), (3.985, 4.051), (4.101, 4.118),
                (4.151, 4.184), (4.266, 4.369), (4.584, 4.634), (5.817, 5.833), (5.867, 5.884)]
gray_spans = [(3.251, 3.283), (3.30, 3.317), (3.334, 3.35), (3.366, 3.384), (3.584, 3.601),
              (3.684, 3.718), (3.751, 3.767), (3.801, 3.817), (3.884, 3.901), (3.934, 3.952),
              (4.051, 4.068), (4.184, 4.218), (4.369, 4.402), (4.417, 4.434), (4.468, 4.501),
              (4.567, 4.584), (4.634, 4.651), (4.666, 4.683), (4.966, 4.984), (5.0, 5.017),
              (5.034, 5.067), (5.216, 5.233), (5.8, 5.817), (5.833, 5.85), (5.884, 5.917),
              (5.95, 5.984)]

# ---------------- panel 5: DQ flag, one per minute from 03:00 ----------------
dq_flag = [11, 11, 11, 0, 0, 0, 0, 0, 0, 11,
           11, 11, 11, 11, 5, 3, 4, 5, 3, 5,
           3, 5, 3, 0, 0, 0, 0, 0, 11, 11,
           11, 0, 0, 0, 0, 4, 5, 5, 0, 0,
           5, 3, 4, 0, 0, 4, 0, 0, 4, 5,
           5, 5, 5, 4, 5, 5, 4, 0, 0, 5,
           5, 5, 5, 3, 0, 0, 5, 0, 0, 5,
           0, 5, 5, 0, 0, 0, 5, 5, 5, 5,
           5, 5, 3, 4, 0, 4, 0, 0, 4, 4,
           0, 0, 0, 0, 3, 5, 5, 5, 0, 0,
           3, 0, 0, 0, 0, 0, 0, 0, 0, 0,
           0, 0, 0, 0, 0, 0, 0, 0, 4, 0,
           4, 0, 4, 4, 0, 0, 0, 0, 0, 0,
           0, 0, 0, 4, 0, 0, 0, 0, 0, 0,
           0, 0, 0, 0, 0, 0, 0, 0, 0, 0,
           0, 0, 11, 11, 11, 11, 11, 11, 0, 0,
           0, 0, 0, 0, 0, 0, 0, 0, 4, 5,
           3, 0, 5, 4, 4, 0, 0, 4, 4, 0,
           0]
dq_extra = [(9, 10), (10, 10), (28, 10), (152, 10), (9, 9), (10, 9), (10, 7),
            (9, 6), (10, 6), (11, 6), (30, 6)]

AXBLUE = '#0072BD'
DARK = '#262626'
XLABEL = 'UTC hours on 20250516'


def cols(pairs):
    a = np.array(pairs, dtype=float)
    return [a[:, i] for i in range(a.shape[1])]


def style(ax, ylabel, ylim, yticks):
    ax.set_xlim(3, 6)
    ax.set_ylim(*ylim)
    xt = [3, 3.5, 4, 4.5, 5, 5.5, 6]
    ax.set_xticks(xt)
    ax.set_xticklabels([f'{v:g}' for v in xt])
    ax.set_yticks(yticks)
    ax.set_yticklabels([f'{v:g}' for v in yticks])
    ax.spines['top'].set_visible(False)
    for s in ('left', 'right'):
        ax.spines[s].set_color(AXBLUE)
        ax.spines[s].set_linewidth(0.8)
    ax.spines['bottom'].set_color(DARK)
    ax.spines['bottom'].set_linewidth(0.9)
    ax.tick_params(axis='x', direction='in', length=6.5, width=0.7, colors=DARK,
                   labelsize=10, pad=6)
    ax.tick_params(axis='y', direction='in', length=6.5, width=0.7, colors=AXBLUE,
                   labelsize=10, pad=5)
    ax.set_xlabel(XLABEL, fontsize=11.3, color=DARK, labelpad=6)
    ax.set_ylabel(ylabel, fontsize=11.3, color=AXBLUE)


def legend(ax, x0, y0, **kw):
    leg = ax.legend(loc='upper left', bbox_to_anchor=(x0, y0), frameon=False,
                    fontsize=9.3, handlelength=6.0, handletextpad=0.6,
                    labelspacing=0.6, borderaxespad=0, **kw)
    leg.set_zorder(10)
    return leg


fig = plt.figure(figsize=(12.75, 20), dpi=300)
L, W, H = 0.0983, 0.6867, 0.1512
ax1 = fig.add_axes([L, 0.7995, W, H])
ax2 = fig.add_axes([L, 0.612, W, H])
ax3 = fig.add_axes([L, 0.4245, W, H])
ax4 = fig.add_axes([L, 0.237, W, H])
ax5 = fig.add_axes([L, 0.0494, W, H])

# panel 1
t, v = cols(bt23_2c)
ax1.plot(t, v, color='blue', lw=0.9, label='MWR 2C (tan = wet window)')
t, v = cols(bt23_3c)
ax1.plot(t, v, color='lightblue', lw=1.0, label='MWR 3C')
t, v = cols(bt23_phy)
ax1.plot(t, v, color='darkorange', lw=2.0, label='Phy-Iter')
for a, b in wet_window:
    ax1.axvspan(a, b, color='tan', alpha=0.5, lw=0, zorder=4)
style(ax1, 'Zenith BT 23 GHz, K', (17.8, 138), [20, 40, 60, 80, 100, 120])
legend(ax1, 0.59, 0.93)

# panel 2
t, v = cols(bt31_2c)
ax2.plot(t, v, color='blue', lw=0.9, label='MWR2C')
t, v = cols(bt31_3c)
ax2.plot(t, v, color='lightblue', lw=1.0, label='MWR 3C (tan = rain flag)')
t, v = cols(bt31_phy)
ax2.plot(t, v, color='darkorange', lw=2.0, label='Phy-Iter')
style(ax2, 'Zenith BT 31 GHz, K', (9.3, 152), [20, 40, 60, 80, 100, 120, 140])
legend(ax2, 0.603, 0.935)

# panel 3
t, v = cols(pwv_2c)
ax3.plot(t, v, color='blue', lw=0.9, label='MWR 2C PWV')
t, v = cols(pwv_3c)
ax3.plot(t, v, color='lightblue', lw=1.4, label='MWR 3C PWV')
t, v = cols(pwv_phy)
ax3.plot(t, v, color='darkorange', lw=2.4,
         label='Phy-Iter PWV\n(tan = MWR 2C only)\n(brown = MWR 3C only)')
for a, b in only_2c:
    ax3.axvspan(a, b, color='tan', alpha=0.5, lw=0, zorder=4)
for a, b in only_3c:
    ax3.axvspan(a, b, color='brown', alpha=0.5, lw=0, zorder=4)
style(ax3, 'Precip. Water Vapor, mm', (0.6, 3.25), [1, 1.5, 2, 2.5, 3])
leg3 = legend(ax3, 0.692, 0.913)
leg3.get_texts()[2].set_linespacing(1.6)

# panel 4
t, v, e = cols(lwp_phy)
ax4.fill_between(t, v - e, v + e, color='darkorange', alpha=0.2, lw=0, zorder=1)
t2, v2, e2 = cols(lwp_adi)
ax4.fill_between(t2, v2 - e2, v2 + e2, color='purple', alpha=0.2, lw=0, zorder=1)
tb, vb = cols(lwp_2c)
ax4.plot(tb, vb, color='blue', lw=1.0, label='MWR 2C LWP', zorder=2)
tl, vl = cols(lwp_3c)
ax4.plot(tl, vl, color='lightblue', lw=1.0, label='MWR 3C LWP', zorder=2)
ax4.plot(t, v, color='darkorange', lw=2.0, label='Phy-Iter LWP', zorder=2)
ax4.plot(t2, v2, color='purple', lw=1.1, label='Adiabatic LWP', zorder=2)
ts, vs = cols(lwp_adi_single)
ax4.plot(ts, vs, 'x', color='purple', ms=4, mew=1.5, zorder=2)
ts, vs = cols(lwp_phy_single)
ax4.plot(ts, vs, 'x', color='darkorange', ms=4, mew=1.5, zorder=2)
for a, b in cyan_spans:
    ax4.axvspan(a, b, color='cyan', alpha=0.5, lw=0, zorder=4)
for a, b in yellow_spans:
    ax4.axvspan(a, b, color='yellow', alpha=0.5, lw=0, zorder=4)
for a, b in gray_spans:
    ax4.axvspan(a, b, color='lightgray', alpha=0.5, lw=0, zorder=4)
style(ax4, 'log10 Liquid Water Path, log10(g/m$^2$)', (0.7, 3.59), [1, 1.5, 2, 2.5, 3, 3.5])
legend(ax4, 0.394, 0.963)

# panel 5
minutes = np.arange(len(dq_flag))
ax5.plot(3 + (minutes + 0.5) / 60.0, dq_flag, 'o', color='darkorange', ms=2.2, mec='none')
m, f = cols(dq_extra)
ax5.plot(3 + (m + 0.5) / 60.0, f, 'o', color='darkorange', ms=2.2, mec='none')
style(ax5, 'MWR Phy Iter DQ Flag', (-0.5, 11.5), [0, 2, 4, 6, 8, 10])

fig.savefig('out.png', dpi=300)
